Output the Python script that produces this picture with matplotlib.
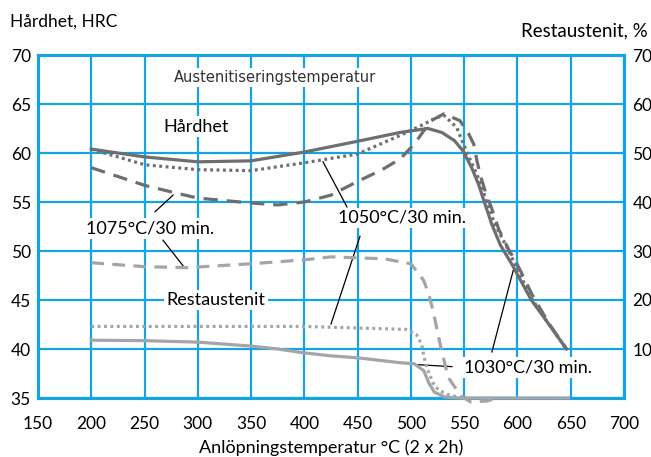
import matplotlib.pyplot as plt

# hardness (HRC, left axis) vs tempering temperature
hard_1030_t = [200, 250, 300, 350, 400, 450, 490, 516, 529, 541, 549, 557, 563.5, 569.5, 576, 584, 595, 613, 629, 646]
hard_1030 = [60.4, 59.6, 59.1, 59.2, 60.1, 61.2, 62.1, 62.5, 62.1, 61.25, 60.2, 58.5, 56.8, 54.8, 52.7, 50.6, 48.6, 45.0, 42.6, 40.0]

hard_1050_t = [200, 250, 300, 350, 400, 450, 490, 509.5, 522, 531, 543, 548, 554, 562, 567, 573, 579, 589, 598, 613, 629, 646]
hard_1050 = [60.4, 58.8, 58.3, 58.2, 59.0, 59.9, 61.8, 62.8, 63.5, 63.85, 62.6, 61.25, 59.7, 57.8, 56.4, 54.4, 52.7, 50.6, 48.6, 45.2, 42.6, 40.0]

hard_1075_t = [200, 250, 280, 300, 350, 375, 400, 425, 450, 473, 490, 503, 519, 531, 546, 554, 559, 562, 565, 570, 576, 582.5, 592, 600, 614, 629, 646]
hard_1075 = [58.5, 56.7, 55.9, 55.4, 54.9, 54.7, 55.0, 55.7, 57.1, 58.3, 59.4, 60.9, 63.3, 64.0, 63.3, 62.0, 60.9, 59.2, 57.8, 56.0, 54.3, 52.2, 50.1, 48.6, 45.5, 42.7, 40.0]

# retained austenite (%, right axis)
rest_1030_t = [200, 250, 300, 350, 375, 400, 425, 450, 490, 503, 512, 517, 522, 532, 545, 648]
rest_1030 = [11.8, 11.7, 11.4, 10.6, 10.0, 9.2, 8.6, 8.2, 7.2, 7.0, 5.6, 3.0, 1.2, 0.2, 0.0, 0.0]

rest_1050_t = [200, 300, 400, 495, 505, 510, 512.5, 516, 521, 526, 536, 548]
rest_1050 = [14.6, 14.6, 14.6, 14.0, 13.0, 11.0, 8.2, 5.6, 3.0, 1.6, 0.6, 0.0]

rest_1075_t = [200, 250, 290, 350, 400, 425, 450, 475, 500, 512, 517, 521, 528, 535, 547, 556, 572, 580]
rest_1075 = [27.6, 26.8, 26.6, 27.4, 28.2, 28.8, 28.6, 28.4, 27.4, 24.0, 21.0, 17.6, 10.4, 4.2, 0.4, -0.8, -0.6, 0.0]

x_ticks = [150, 200, 250, 300, 350, 400, 450, 500, 550, 600, 650, 700]
y_ticks = [35, 40, 45, 50, 55, 60, 65, 70]
y2_ticks = [10, 20, 30, 40, 50, 60, 70]

# leader lines (temp, HRC)
leaders = [
    ([259.8, 276.7], [54.0, 55.7]),
    ([267.3, 286.1], [51.1, 48.5]),
    ([440.0, 417.5], [54.5, 59.1]),
    ([452.2, 425.0], [51.5, 42.55]),
    ([576.0, 596.0], [39.7, 48.0]),
    ([538.5, 506.6], [38.2, 38.4]),
]

blue = '#14a5e0'
dark = '#6d6e71'
light = '#a3a5a8'

plt.rcParams['font.family'] = ['Lato', 'DejaVu Sans']

fig = plt.figure(figsize=(6.51, 4.57), dpi=100)
ax = fig.add_axes([38 / 651, 59 / 457, 586 / 651, 343 / 457])

ax.plot(hard_1030_t, hard_1030, color=dark, lw=2.3, zorder=3)
ax.plot(hard_1050_t, hard_1050, color=dark, lw=2.3, dashes=(0.9, 1.1), zorder=3)
ax.plot(hard_1075_t, hard_1075, color=dark, lw=2.3, dashes=(4.5, 2.8), zorder=3)

ax2 = ax.twinx()
ax2.plot(rest_1030_t, rest_1030, color=light, lw=2.3, clip_on=False, zorder=3)
ax2.plot(rest_1050_t, rest_1050, color=light, lw=2.3, dashes=(0.9, 1.1), clip_on=False, zorder=3)
ax2.plot(rest_1075_t, rest_1075, color=light, lw=2.3, dashes=(4.0, 2.6), clip_on=False, zorder=3)

for lx, ly in leaders:
    ax.plot(lx, ly, color='black', lw=0.9, zorder=4)

ax.set_xlim(150, 700)
ax.set_ylim(35, 70)
ax2.set_ylim(0, 70)
ax.set_xticks(x_ticks)
ax.set_yticks(y_ticks)
ax2.set_yticks(y2_ticks)

ax.grid(True, color=blue, lw=1.6)
ax.set_axisbelow(True)
for a in (ax, ax2):
    for s in a.spines.values():
        s.set_color(blue)
        s.set_linewidth(2.2)
ax.tick_params(length=0, labelsize=12.5, pad=5)
ax.tick_params(axis='x', pad=13)
ax2.tick_params(length=0, labelsize=12.5, pad=6)
ax2.patch.set_visible(False)

box = dict(facecolor='white', edgecolor='none', pad=1.5)
ax.text(372, 67.7, 'Austenitiseringstemperatur', fontsize=10.5, color='#333333',
        family=['Liberation Sans Narrow', 'DejaVu Sans'], ha='center', va='center', bbox=box, zorder=5)
ax.text(298, 62.7, 'Hårdhet', fontsize=13, ha='center', va='center', bbox=box, zorder=5)
ax.text(317, 45, 'Restaustenit', fontsize=13, ha='center', va='center', bbox=box, zorder=5)
ax.text(255, 52.3, '1075°C/30 min.', fontsize=13, ha='center', va='center', bbox=box, zorder=5)
ax.text(492, 53.4, '1050°C/30 min.', fontsize=13, ha='center', va='center', bbox=box, zorder=5)
ax.text(610, 38.1, '1030°C/30 min.', fontsize=13, ha='center', va='center', bbox=box, zorder=5)

ax.set_xlabel('Anlöpningstemperatur °C (2 x 2h)', fontsize=13, labelpad=5)
fig.text(10 / 651, 1 - 22 / 457, 'Hårdhet, HRC', fontsize=12.5, ha='left', va='center')
fig.text(648 / 651, 1 - 31 / 457, 'Restaustenit, %', fontsize=13.5, ha='right', va='center')

fig.savefig('out.png', dpi=100)
